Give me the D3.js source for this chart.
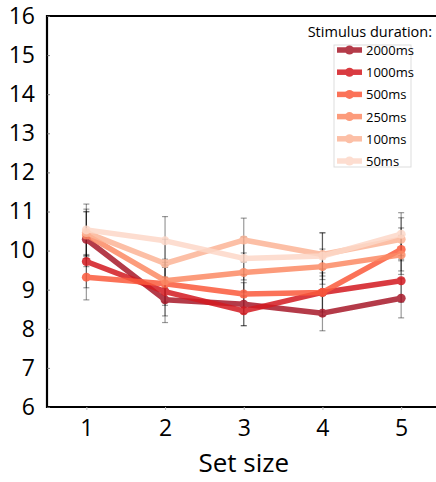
<!DOCTYPE html>
<html><head><meta charset="utf-8">
<script src="https://cdn.jsdelivr.net/npm/d3@7"></script>
<style>body{margin:0;background:#fff}svg{display:block}text{font-family:"Open Sans","Noto Sans",sans-serif;fill:#000}</style>
</head><body><svg id="c" width="436" height="482"></svg>
<script>
const setSizes = [1, 2, 3, 4, 5];
const durations = ["2000ms", "1000ms", "500ms", "250ms", "100ms", "50ms"];
const colors = ["#a8192a", "#d31a20", "#fb5a3c", "#fc8a64", "#fcb597", "#fdd8c8"];
const means = {
  "2000ms": [10.29, 8.74, 8.63, 8.40, 8.78],
  "1000ms": [9.72, 8.95, 8.46, 8.93, 9.23],
  "500ms":  [9.32, 9.15, 8.89, 8.93, 10.03],
  "250ms":  [10.40, 9.23, 9.44, 9.59, 9.89],
  "100ms":  [10.46, 9.67, 10.27, 9.90, 10.29],
  "50ms":   [10.53, 10.25, 9.80, 9.86, 10.42]
};
const errors = {
  "2000ms": [0.70, 0.58, 0.55, 0.45, 0.50],
  "1000ms": [0.67, 0.62, 0.38, 0.60, 0.55],
  "500ms":  [0.58, 0.55, 0.50, 0.50, 0.55],
  "250ms":  [0.60, 0.55, 0.50, 0.45, 0.50],
  "100ms":  [0.60, 0.62, 0.56, 0.55, 0.55],
  "50ms":   [0.66, 0.62, 0.55, 0.60, 0.55]
};
const yTicks = [6, 7, 8, 9, 10, 11, 12, 13, 14, 15, 16];
const xLabel = "Set size";
const legendTitle = "Stimulus duration:";

const svg = d3.select("#c");
const x = d3.scaleLinear().domain([0.5, 5.5]).range([47, 440.5]);
const y = d3.scaleLinear().domain([6, 16]).range([407, 16]);

// frame (left, top, bottom; right side falls outside the picture)
svg.append("path").attr("d", `M450,${y(16)}H${x(0.5)}V${y(6)}H450`)
  .attr("fill", "none").attr("stroke", "#000").attr("stroke-width", 2.2);

// y axis labels
const ya = svg.append("g").attr("transform", "translate(47,0)")
  .call(d3.axisLeft(y).tickValues(yTicks).tickSize(-3).tickPadding(12).tickFormat(d3.format("d")));
ya.select(".domain").remove();
ya.selectAll(".tick line").attr("stroke", "#666").attr("stroke-width", 0.8);
ya.selectAll("text").attr("font-size", 23).attr("fill", "#000");

// x axis labels
const xa = svg.append("g").attr("transform", "translate(0,407)")
  .call(d3.axisBottom(x).tickValues(setSizes).tickSize(3).tickPadding(10).tickFormat(d3.format("d")));
xa.select(".domain").remove();
xa.selectAll(".tick line").attr("stroke", "#bbb").attr("stroke-width", 1);
xa.selectAll("text").attr("font-size", 23).attr("fill", "#000");

svg.append("text").attr("x", x(3)).attr("y", 472).attr("text-anchor", "middle")
  .attr("font-size", 26).text(xLabel);

// error bars
const eb = svg.append("g");
durations.forEach(d => {
  setSizes.forEach((s, i) => {
    const m = means[d][i], e = errors[d][i];
    const cx = x(s);
    const g = eb.append("g").attr("stroke", "#000").attr("stroke-opacity", 0.4).attr("stroke-width", 1.2);
    g.append("line").attr("x1", cx).attr("x2", cx).attr("y1", y(m + e)).attr("y2", y(m - e));
    g.append("line").attr("x1", cx - 3).attr("x2", cx + 3).attr("y1", y(m + e)).attr("y2", y(m + e));
    g.append("line").attr("x1", cx - 3).attr("x2", cx + 3).attr("y1", y(m - e)).attr("y2", y(m - e));
  });
});

// lines
const line = d3.line().x((v, i) => x(setSizes[i])).y(v => y(v));
durations.forEach((d, k) => {
  const g = svg.append("g").attr("opacity", 0.85);
  g.append("path").datum(means[d]).attr("d", line).attr("fill", "none")
    .attr("stroke", colors[k]).attr("stroke-width", 5.5).attr("stroke-linejoin", "round");
  g.selectAll("circle").data(means[d]).join("circle")
    .attr("cx", (v, i) => x(setSizes[i])).attr("cy", v => y(v)).attr("r", 4.5).attr("fill", colors[k]);
});

// legend
svg.append("text").attr("x", 432).attr("y", 37).attr("text-anchor", "end")
  .attr("font-size", 14.5).text(legendTitle);
svg.append("rect").attr("x", 334).attr("y", 45).attr("width", 77).attr("height", 122)
  .attr("fill", "#fff").attr("stroke", "#ddd").attr("stroke-width", 1);
durations.forEach((d, k) => {
  const ly = 50 + k * 22.2;
  const g = svg.append("g").attr("opacity", 0.85);
  g.append("line").attr("x1", 337).attr("x2", 362).attr("y1", ly).attr("y2", ly)
    .attr("stroke", colors[k]).attr("stroke-width", 5.5);
  g.append("circle").attr("cx", 349.5).attr("cy", ly).attr("r", 4.5).attr("fill", colors[k]);
  svg.append("text").attr("x", 366).attr("y", ly + 5).attr("font-size", 13).text(d);
});
</script></body></html>
